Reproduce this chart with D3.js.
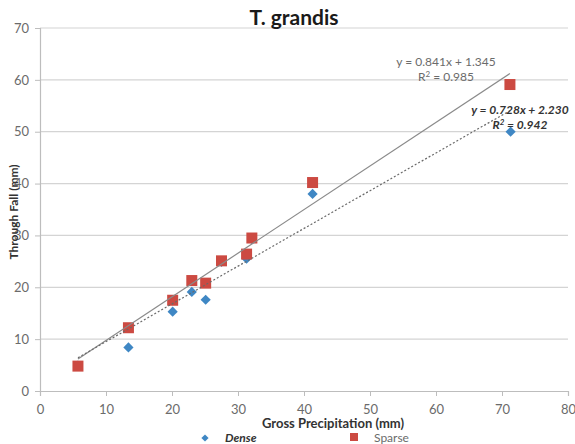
<!DOCTYPE html>
<html>
<head>
<meta charset="utf-8">
<script src="https://cdn.jsdelivr.net/npm/d3@7"></script>
<style>
  body { margin: 0; background: #fff; }
  text { font-family: Lato, "Open Sans", sans-serif; }
</style>
</head>
<body>
<div class="chart"></div>
<script>
var width = 575, height = 444;

// gross precipitation (mm)
var denseX  = [5.75, 13.4, 20.1, 23.0, 25.1, 27.5, 31.3, 32.1, 41.3, 71.3];
var denseY  = [4.9, 8.4, 15.3, 19.1, 17.6, 24.9, 25.5, 29.3, 38.0, 50.0];
var sparseX = [5.75, 13.4, 20.1, 23.0, 25.1, 27.5, 31.3, 32.1, 41.3, 71.2];
var sparseY = [4.8, 12.2, 17.5, 21.3, 20.8, 25.1, 26.4, 29.5, 40.2, 59.1];

var xTicks = [0, 10, 20, 30, 40, 50, 60, 70, 80];
var yTicks = [0, 10, 20, 30, 40, 50, 60, 70];

// trendlines: [slope, intercept, r2]
var sparseFit = [0.841, 1.345, 0.985];
var denseFit  = [0.728, 2.230, 0.942];

var margin = { left: 40, right: 7, top: 28, bottom: 53 };

var svg = d3.select('.chart')
	.append('svg')
	.attr('width', width)
	.attr('height', height);

var x = d3.scaleLinear().domain([0, 80]).range([margin.left, width - margin.right]);
var y = d3.scaleLinear().domain([0, 70]).range([height - margin.bottom, margin.top]);

// gridlines
svg.append('g')
	.selectAll('line')
	.data(yTicks.slice(1))
	.enter().append('line')
	.attr('x1', x(0)).attr('x2', x(80))
	.attr('y1', function(d) { return y(d); })
	.attr('y2', function(d) { return y(d); })
	.attr('stroke', '#d4d4d4')
	.attr('stroke-width', 1.2);

var xAxis = svg.append('g')
	.attr('transform', 'translate(0,' + y(0) + ')')
	.call(d3.axisBottom(x).tickValues(xTicks).tickSize(5).tickPadding(9));

var yAxis = svg.append('g')
	.attr('transform', 'translate(' + x(0) + ',0)')
	.call(d3.axisLeft(y).tickValues(yTicks).tickSize(5).tickPadding(6));

[xAxis, yAxis].forEach(function(a) {
	a.select('.domain').attr('stroke', '#bdbdbd').attr('stroke-width', 1.2);
	a.selectAll('.tick line').attr('stroke', '#bdbdbd');
	a.selectAll('.tick text')
		.attr('fill', '#6b6b6b')
		.style('font-size', '13px')
		.style('font-family', 'Lato, sans-serif');
});

// markers (diamond = square turned 45 degrees)
var diamond = d3.symbol().type(d3.symbolSquare).size(52);
svg.append('g')
	.selectAll('path')
	.data(denseX)
	.enter().append('path')
	.attr('d', diamond)
	.attr('transform', function(d, i) { return 'translate(' + x(d) + ',' + y(denseY[i]) + ') rotate(45)'; })
	.attr('fill', '#3f87c4');

svg.append('g')
	.selectAll('rect')
	.data(sparseX)
	.enter().append('rect')
	.attr('x', function(d) { return x(d) - 5.5; })
	.attr('y', function(d, i) { return y(sparseY[i]) - 5.5; })
	.attr('width', 11).attr('height', 11)
	.attr('fill', '#cc4a42');

// trendlines
function fitLine(xs, fit, color, dash) {
	var x0 = d3.min(xs), x1 = d3.max(xs);
	svg.append('line')
		.attr('x1', x(x0)).attr('y1', y(fit[0] * x0 + fit[1]))
		.attr('x2', x(x1)).attr('y2', y(fit[0] * x1 + fit[1]))
		.attr('stroke', color)
		.attr('stroke-width', 1.2)
		.attr('stroke-dasharray', dash);
}
fitLine(sparseX, sparseFit, '#8a8a8a', null);
fitLine(denseX, denseFit, '#6a6a6a', '2,2');

// equations
svg.append('text')
	.attr('x', 446).attr('y', 66)
	.attr('text-anchor', 'middle')
	.attr('fill', '#6b6b6b')
	.style('font-size', '12px')
	.text('y = ' + sparseFit[0].toFixed(3) + 'x + ' + sparseFit[1].toFixed(3));
svg.append('text')
	.attr('x', 446).attr('y', 81)
	.attr('text-anchor', 'middle')
	.attr('fill', '#6b6b6b')
	.style('font-size', '12px')
	.html('R<tspan dy="-4" font-size="8px">2</tspan><tspan dy="4"> = ' + sparseFit[2].toFixed(3) + '</tspan>');

svg.append('text')
	.attr('x', 520).attr('y', 114)
	.attr('text-anchor', 'middle')
	.attr('fill', '#333')
	.style('font-size', '12px')
	.style('font-weight', 'bold')
	.style('font-style', 'italic')
	.text('y = ' + denseFit[0].toFixed(3) + 'x + ' + denseFit[1].toFixed(3));
svg.append('text')
	.attr('x', 520).attr('y', 129)
	.attr('text-anchor', 'middle')
	.attr('fill', '#333')
	.style('font-size', '12px')
	.style('font-weight', 'bold')
	.style('font-style', 'italic')
	.html('R<tspan dy="-4" font-size="8px">2</tspan><tspan dy="4"> = ' + denseFit[2].toFixed(3) + '</tspan>');

// titles
svg.append('text')
	.attr('x', 294).attr('y', 25)
	.attr('text-anchor', 'middle')
	.attr('fill', '#1a1a1a')
	.style('font-size', '21px')
	.style('font-weight', 'bold')
	.text('T. grandis');

svg.append('text')
	.attr('x', 333).attr('y', 428)
	.attr('text-anchor', 'middle')
	.attr('fill', '#333')
	.style('font-size', '13px')
	.style('font-weight', 'bold')
	.text('Gross Precipitation (mm)');

svg.append('text')
	.attr('transform', 'translate(18,212) rotate(-90)')
	.attr('text-anchor', 'middle')
	.attr('fill', '#333')
	.style('font-size', '12px')
	.style('font-weight', 'bold')
	.text('Through Fall (mm)');

// legend
svg.append('path')
	.attr('d', d3.symbol().type(d3.symbolSquare).size(26))
	.attr('transform', 'translate(205,438) rotate(45)')
	.attr('fill', '#3f87c4');
svg.append('text')
	.attr('x', 225).attr('y', 442)
	.attr('fill', '#333')
	.style('font-size', '12px')
	.style('font-weight', 'bold')
	.style('font-style', 'italic')
	.text('Dense');
svg.append('rect')
	.attr('x', 350).attr('y', 433)
	.attr('width', 8).attr('height', 8)
	.attr('fill', '#cc4a42');
svg.append('text')
	.attr('x', 374).attr('y', 442)
	.attr('fill', '#6b6b6b')
	.style('font-size', '12px')
	.text('Sparse');
</script>
</body>
</html>
